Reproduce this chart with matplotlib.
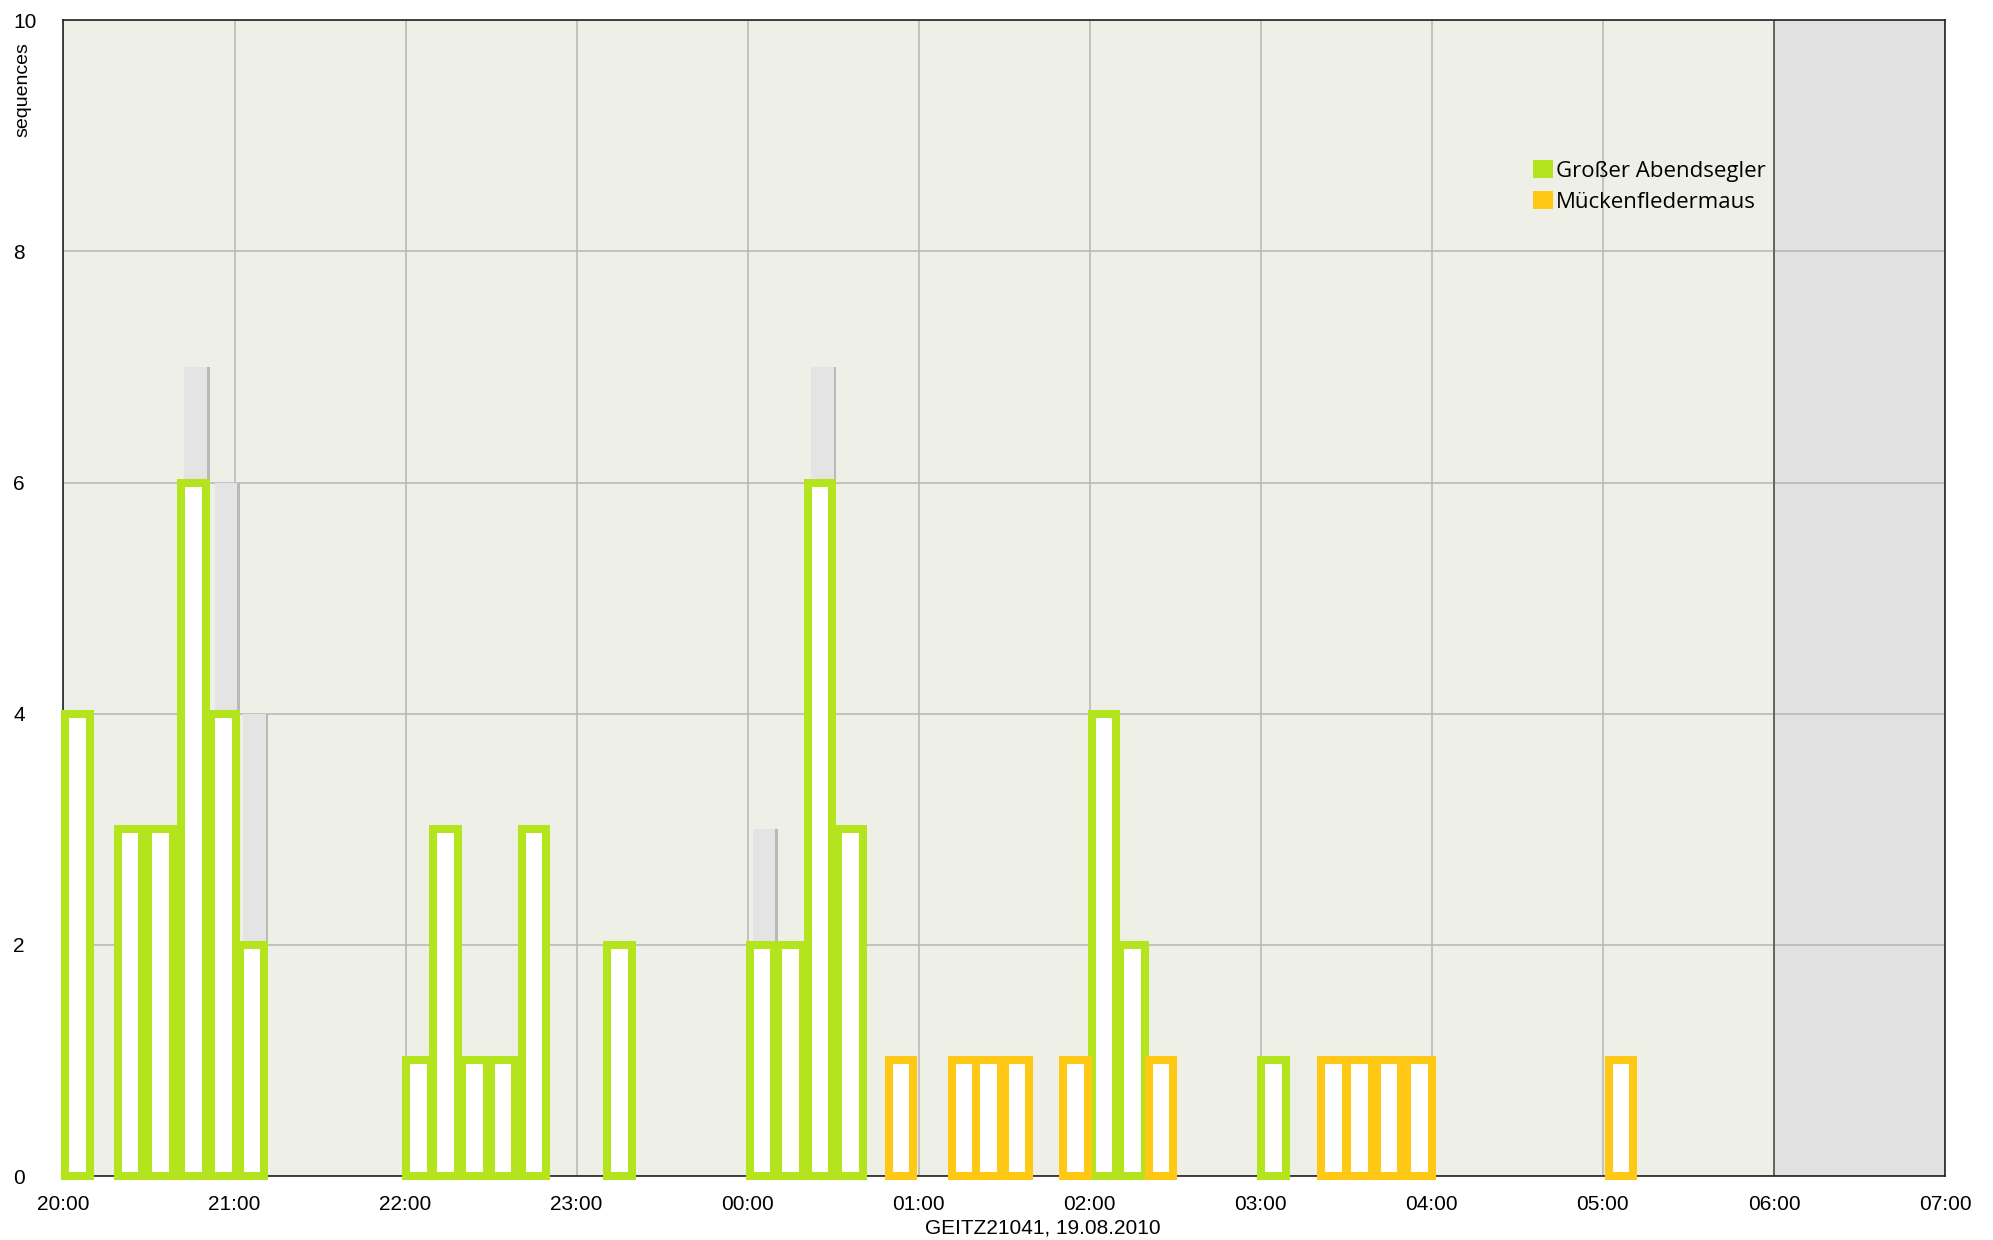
"""Bat activity chart: sequences per 10-minute slot over one night."""

import matplotlib

matplotlib.use("Agg")
import matplotlib.pyplot as plt
from matplotlib.patches import Patch

# bar centres in minutes after 20:00
green_minutes = [5, 23.4, 34, 45.6, 56.2, 66.2, 124.5, 134, 144.2, 154.2, 165, 195,
                 245, 255, 265.4, 276, 365, 375, 424.5]
green_counts = [4, 3, 3, 6, 4, 2, 1, 3, 1, 1, 3, 2, 2, 2, 6, 3, 4, 2, 1]

orange_minutes = [293.7, 316, 324.5, 334.5, 355, 385, 445.5, 454.6, 465, 475.7, 546.4]
orange_counts = [1, 1, 1, 1, 1, 1, 1, 1, 1, 1, 1]

# total sequences (grey bars behind) where they exceed the coloured bar
total_minutes = [45.6, 56.2, 66.2, 245, 265.4]
total_counts = [7, 6, 4, 3, 7]

hour_labels = ["20:00", "21:00", "22:00", "23:00", "00:00", "01:00", "02:00",
               "03:00", "04:00", "05:00", "06:00", "07:00"]
y_ticks = [0, 2, 4, 6, 8, 10]
species = ["Großer Abendsegler", "Mückenfledermaus"]

GREEN = "#b3e41e"
ORANGE = "#ffc814"
BAR_W = 8.6

plt.rcParams["font.family"] = ["Liberation Sans", "DejaVu Sans"]

fig = plt.figure(figsize=(19.93, 12.4), dpi=100)
ax = fig.add_axes([63.5 / 1993, 1 - 1176 / 1240, (1945 - 63.5) / 1993, (1176 - 20.3) / 1240])
ax.set_facecolor("#eef0e7")

x_ticks = [60 * i for i in range(len(hour_labels))]
ax.set_xlim(0, x_ticks[-1])
ax.set_ylim(0, 10)

# dawn region after 06:00
ax.axvspan(x_ticks[-2], x_ticks[-1], color="#e1e1e1", zorder=0.5)
ax.axvline(x_ticks[-2], color="#555555", linewidth=1.2, zorder=1)

ax.set_xticks(x_ticks)
ax.set_xticklabels(hour_labels)
ax.set_yticks(y_ticks)
ax.set_yticklabels([str(v) for v in y_ticks])
plt.setp(ax.get_yticklabels(), ha="left")
ax.tick_params(axis="x", length=0, pad=14, labelsize=15)
ax.tick_params(axis="y", length=0, pad=36, labelsize=15)
ax.grid(True, color="#b5b5b5", linewidth=1.1, zorder=1)
ax.set_axisbelow(True)
for side in ax.spines.values():
    side.set_color("#222222")
    side.set_linewidth(1.2)

# grey totals with a darker right shadow
ax.bar([m + 1 for m in total_minutes], total_counts, width=8.4, color="#e4e4e4", zorder=2)
ax.bar([m + 5.2 for m in total_minutes], total_counts, width=0.9, color="#b8b8b8", zorder=2)

ax.bar(green_minutes, green_counts, width=BAR_W, color="white", edgecolor=GREEN,
       linewidth=5.8, zorder=3, clip_on=False)
ax.bar(orange_minutes, orange_counts, width=BAR_W, color="white", edgecolor=ORANGE,
       linewidth=5.8, zorder=3, clip_on=False)

handles = [Patch(facecolor=GREEN, edgecolor="none"), Patch(facecolor=ORANGE, edgecolor="none")]
fig.legend(handles, species, loc="upper left", bbox_to_anchor=(1533 / 1993, 1 - 160 / 1240),
           frameon=False, handlelength=0.9, handleheight=0.9,
           handletextpad=0.15, borderpad=0, borderaxespad=0, labelspacing=0.4,
           prop={"family": "Open Sans", "size": 16})

fig.text(23 / 1993, 1 - 90 / 1240, "sequences", rotation=90, ha="center", va="center", fontsize=14)
fig.text(1043 / 1993, 1 - 1228 / 1240, "GEITZ21041, 19.08.2010", ha="center", va="center", fontsize=15)

fig.savefig("out.png", dpi=100)
plt.close(fig)
